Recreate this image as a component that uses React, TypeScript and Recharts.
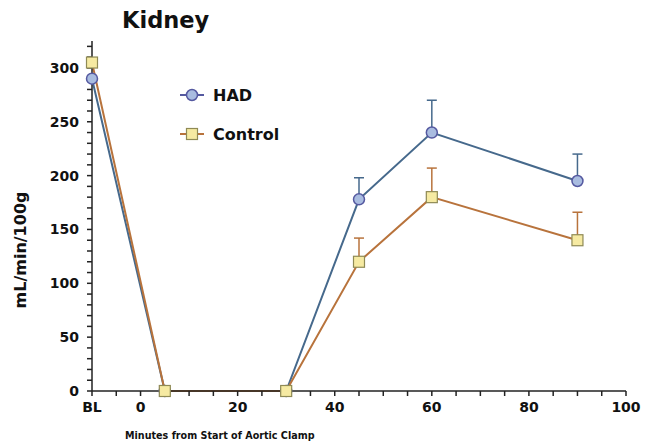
import React from "react";
import { LineChart, Line, XAxis, YAxis, ErrorBar } from "recharts";

const minutes = [-10, 5, 30, 45, 60, 90];
const hadValues = [290, 0, 0, 178, 240, 195];
const hadErrors = [0, 0, 0, 20, 30, 25];
const controlValues = [305, 0, 0, 120, 180, 140];
const controlErrors = [0, 0, 0, 22, 27, 26];

const xTicks = [-10, -5, 0, 5, 10, 15, 20, 25, 30, 35, 40, 45, 50, 55, 60, 65, 70, 75, 80, 85, 90, 95, 100];
const xLabels: Record<number, string> = { [-10]: "BL", 0: "0", 20: "20", 40: "40", 60: "60", 80: "80", 100: "100" };
const yTicks = Array.from({ length: 33 }, (_, i) => i * 10);
const yLabels = [0, 50, 100, 150, 200, 250, 300];

const data = minutes.map((m, i) => ({
  x: m,
  had: hadValues[i],
  hadErr: [0, hadErrors[i]],
  control: controlValues[i],
  controlErr: [0, controlErrors[i]],
}));

const FONT = "'DejaVu Sans', Verdana, sans-serif";
const HAD_LINE = "#46698c";
const HAD_FILL = "#a9bce0";
const HAD_EDGE = "#5559a0";
const CTL_LINE = "#b8733c";
const CTL_FILL = "#f6eaa2";
const CTL_EDGE = "#8f8a55";

const CircleDot = (props: any) => {
  const { cx, cy } = props;
  if (cx == null || cy == null) return null;
  return <circle cx={cx} cy={cy} r={5.5} fill={HAD_FILL} stroke={HAD_EDGE} strokeWidth={1.5} />;
};

const SquareDot = (props: any) => {
  const { cx, cy } = props;
  if (cx == null || cy == null) return null;
  return <rect x={cx - 5.5} y={cy - 5.5} width={11} height={11} fill={CTL_FILL} stroke={CTL_EDGE} strokeWidth={1.2} />;
};

const LegendBox = () => (
  <div
    style={{
      position: "absolute",
      left: 180,
      top: 83,
      fontFamily: FONT,
      fontWeight: "bold",
      fontSize: 16,
      color: "#111",
    }}
  >
    <div style={{ display: "flex", alignItems: "center", height: 24 }}>
      <svg width={24} height={14} style={{ marginRight: 9 }}>
        <line x1={0} y1={7} x2={24} y2={7} stroke={HAD_EDGE} strokeWidth={2} />
        <circle cx={12} cy={7} r={5.5} fill={HAD_FILL} stroke={HAD_EDGE} strokeWidth={1.5} />
      </svg>
      HAD
    </div>
    <div style={{ display: "flex", alignItems: "center", height: 24, marginTop: 15 }}>
      <svg width={24} height={14} style={{ marginRight: 9 }}>
        <line x1={0} y1={7} x2={24} y2={7} stroke={CTL_LINE} strokeWidth={2} />
        <rect x={6.5} y={1.5} width={11} height={11} fill={CTL_FILL} stroke={CTL_EDGE} strokeWidth={1.2} />
      </svg>
      Control
    </div>
  </div>
);

export default function App() {
  return (
    <div style={{ position: "absolute", left: 0, top: 0, width: 656, height: 446, background: "#fff" }}>
      <LineChart width={656} height={446} data={data} margin={{ top: 41, right: 30, left: 0, bottom: 25 }}>
        <XAxis
          dataKey="x"
          type="number"
          domain={[-10, 100]}
          ticks={xTicks}
          tickFormatter={(v: number) => xLabels[v] ?? ""}
          interval={0}
          height={30}
          stroke="#222"
          strokeWidth={1.5}
          tickSize={5}
          tickMargin={6}
          tick={{ fill: "#111", fontFamily: FONT, fontWeight: "bold", fontSize: 14 }}
        />
        <YAxis
          type="number"
          domain={[0, 325]}
          ticks={yTicks}
          tickFormatter={(v: number) => (yLabels.includes(v) ? String(v) : "")}
          interval={0}
          width={92}
          stroke="#222"
          strokeWidth={1.5}
          tickSize={5}
          tickMargin={8}
          tick={{ fill: "#111", fontFamily: FONT, fontWeight: "bold", fontSize: 14 }}
        />
        <Line
          dataKey="had"
          stroke={HAD_LINE}
          strokeWidth={2}
          dot={<CircleDot />}
          activeDot={false}
          isAnimationActive={false}
        >
          <ErrorBar dataKey="hadErr" direction="y" width={5} stroke={HAD_LINE} strokeWidth={1.5} />
        </Line>
        <Line
          dataKey="control"
          stroke={CTL_LINE}
          strokeWidth={2}
          dot={<SquareDot />}
          activeDot={false}
          isAnimationActive={false}
        >
          <ErrorBar dataKey="controlErr" direction="y" width={5} stroke={CTL_LINE} strokeWidth={1.5} />
        </Line>
      </LineChart>
      <div
        style={{
          position: "absolute",
          left: 122,
          top: 7,
          fontFamily: FONT,
          fontWeight: "bold",
          fontSize: 22.5,
          color: "#111",
        }}
      >
        Kidney
      </div>
      <div
        style={{
          position: "absolute",
          left: 20,
          top: 250,
          transform: "translate(-50%, -50%) rotate(-90deg)",
          fontFamily: FONT,
          fontWeight: "bold",
          fontSize: 16,
          color: "#111",
          whiteSpace: "nowrap",
        }}
      >
        mL/min/100g
      </div>
      <div
        style={{
          position: "absolute",
          left: 125,
          top: 430,
          fontFamily: FONT,
          fontWeight: "bold",
          fontSize: 9.6,
          color: "#111",
          whiteSpace: "nowrap",
        }}
      >
        Minutes from Start of Aortic Clamp
      </div>
      <LegendBox />
    </div>
  );
}
